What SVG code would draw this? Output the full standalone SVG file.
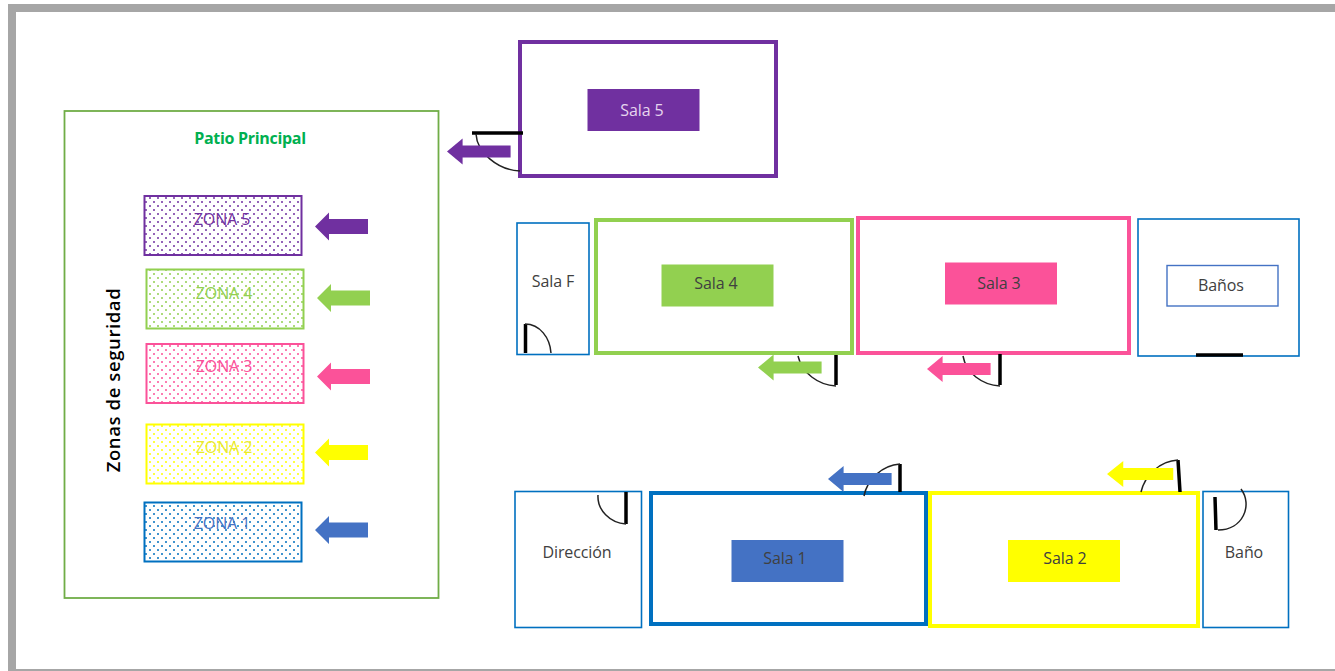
<svg xmlns="http://www.w3.org/2000/svg" width="1335" height="671" viewBox="0 0 1335 671">
<style>
text{font-family:"Open Sans","Liberation Sans",sans-serif;text-anchor:middle;font-size:16px;fill:#404040;letter-spacing:-.1px}
.room{fill:#fff;stroke-width:4}
.small{fill:#fff;stroke:#0070c0;stroke-width:1.6}
.zone{stroke-width:2}
.door{fill:none;stroke:#000;stroke-width:3.5}
.swing{fill:none;stroke:#222;stroke-width:1.5}
</style>
<defs>
<pattern id="p5" width="8" height="8" patternUnits="userSpaceOnUse"><rect width="8" height="8" fill="#fff"/><circle cx="2" cy="2" r="1" fill="#7030a0"/><circle cx="6" cy="6" r="1" fill="#7030a0"/></pattern>
<pattern id="p4" width="8" height="8" patternUnits="userSpaceOnUse"><rect width="8" height="8" fill="#fff"/><circle cx="2" cy="2" r="1" fill="#92d050"/><circle cx="6" cy="6" r="1" fill="#92d050"/></pattern>
<pattern id="p3" width="8" height="8" patternUnits="userSpaceOnUse"><rect width="8" height="8" fill="#fff"/><circle cx="2" cy="2" r="1" fill="#fb5299"/><circle cx="6" cy="6" r="1" fill="#fb5299"/></pattern>
<pattern id="p2" width="8" height="8" patternUnits="userSpaceOnUse"><rect width="8" height="8" fill="#fff"/><circle cx="2" cy="2" r="1" fill="#ffff00"/><circle cx="6" cy="6" r="1" fill="#ffff00"/></pattern>
<pattern id="p1" width="8" height="8" patternUnits="userSpaceOnUse"><rect width="8" height="8" fill="#fff"/><circle cx="2" cy="2" r="1" fill="#0070c0"/><circle cx="6" cy="6" r="1" fill="#0070c0"/></pattern>
<path id="arr" d="M0 0L13 -13V-6H53V6H13V13Z"/>
<path id="arr2" d="M0 0L14 -14V-7.500H53V7.500H14V14Z"/>
</defs>
<rect width="1335" height="671" fill="#fff"/>
<path d="M12 675V8H1335M12 673H1335" fill="none" stroke="#a6a6a6" stroke-width="8"/>

<g id="patio">
<rect x="64.500" y="111" width="374" height="487" fill="#fff" stroke="#70ad47" stroke-width="1.800"/>
<text x="250" y="144" style="font-size:16px;font-weight:700;fill:#00b050;letter-spacing:-.3px">Patio Principal</text>
<text transform="translate(120 380) rotate(-90)" style="font-size:18.500px;font-weight:600;fill:#000;letter-spacing:.6px">Zonas de seguridad</text>
</g>
<g id="zona5"><rect class="zone" x="144.500" y="196" width="157" height="59" fill="url(#p5)" stroke="#7030a0"/><text x="222" y="225" style="fill:#7030a0">ZONA 5</text></g>
<g id="zona4"><rect class="zone" x="146.500" y="269.500" width="157" height="59" fill="url(#p4)" stroke="#92d050"/><text x="224" y="299" style="fill:#92d050">ZONA 4</text></g>
<g id="zona3"><rect class="zone" x="146.500" y="344" width="157" height="59" fill="url(#p3)" stroke="#fb5299"/><text x="224" y="372" style="fill:#fb5299">ZONA 3</text></g>
<g id="zona2"><rect class="zone" x="146.500" y="424.500" width="157" height="59" fill="url(#p2)" stroke="#ffff00"/><text x="224" y="453" style="fill:#e8e830">ZONA 2</text></g>
<g id="zona1"><rect class="zone" x="144.500" y="502.500" width="157" height="59" fill="url(#p1)" stroke="#0070c0"/><text x="222" y="529" style="fill:#4472c4">ZONA 1</text></g>

<g id="sala5"><rect class="room" x="520" y="42" width="256" height="134" stroke="#7030a0"/><rect x="587.500" y="89" width="112" height="42" fill="#7030a0"/><text x="642" y="116" style="fill:#e6d5ee">Sala 5</text></g>
<g id="salaF"><rect class="small" x="517" y="223" width="72" height="131.500"/><text x="553" y="287">Sala F</text></g>
<g id="sala4"><rect class="room" x="596" y="220" width="256" height="133" stroke="#92d050"/><rect x="661.500" y="264.500" width="112" height="42" fill="#92d050"/><text x="716" y="289">Sala 4</text></g>
<g id="sala3"><rect class="room" x="858" y="218" width="271" height="135" stroke="#fb5299"/><rect x="945" y="262.500" width="112" height="42" fill="#fb5299"/><text x="999" y="289">Sala 3</text></g>
<g id="banos"><rect class="small" x="1138" y="219" width="161" height="137"/><rect x="1167" y="265.500" width="111" height="40.500" fill="#fff" stroke="#4472c4" stroke-width="1.400"/><text x="1221" y="291">Baños</text></g>
<g id="direccion"><rect class="small" x="515" y="491.500" width="126.500" height="136"/><text x="577" y="558">Dirección</text></g>
<g id="sala1"><rect class="room" x="651" y="493" width="275" height="131" stroke="#0070c0"/><rect x="731.500" y="540" width="112" height="42" fill="#4472c4"/><text x="785" y="564">Sala 1</text></g>
<g id="sala2"><rect class="room" x="930" y="493" width="268" height="133" stroke="#ffff00"/><rect x="1008" y="540" width="112" height="42" fill="#ffff00"/><text x="1065" y="564">Sala 2</text></g>
<g id="bano"><rect class="small" x="1203" y="491.500" width="85.500" height="136"/><text x="1244" y="558">Baño</text></g>

<g id="connectors">
<g id="doors">
<path class="door" d="M472 133H523"/><path class="swing" d="M476 134C477 152 497 170 520 171"/>
<path class="door" d="M525.500 353V324"/><path class="swing" d="M525 324C540 324 550 338 551 353"/>
<path class="door" d="M836 355V385"/><path class="swing" d="M798 356C802 373 818 385 836 386"/>
<path class="door" d="M1000 354V385"/><path class="swing" d="M963 356C966 373 982 385 1000 386"/>
<path class="door" d="M1196 355H1243"/>
<path class="door" d="M900 492V464"/><path class="swing" d="M864 496C867 480 882 465 900 464"/>
<path class="door" d="M1180 492L1178 460"/><path class="swing" d="M1141 492C1145 475 1160 461 1178 460"/>
<path class="door" d="M1215 497L1216 530"/><path class="swing" d="M1241 489C1253 505 1243 530 1218 530"/>
<path class="door" d="M626 492V524"/><path class="swing" d="M598 495C597 510 610 523 626 524"/>
</g>
<g id="arrows">
<use href="#arr" fill="#7030a0" transform="translate(447 151.500) scale(1.200 1)"/>
<use href="#arr2" x="315" y="226.500" fill="#7030a0"/>
<use href="#arr2" x="317" y="298" fill="#92d050"/>
<use href="#arr2" x="317" y="376.500" fill="#fb5299"/>
<use href="#arr2" x="315" y="452.500" fill="#ffff00"/>
<use href="#arr2" x="315" y="530" fill="#4472c4"/>
<use href="#arr" fill="#92d050" transform="translate(758 367.500) scale(1.200 1)"/>
<use href="#arr" fill="#fb5299" transform="translate(927 369) scale(1.200 1)"/>
<use href="#arr" fill="#4472c4" transform="translate(828 479) scale(1.200 1)"/>
<use href="#arr" fill="#ffff00" transform="translate(1107 474) scale(1.250 1)"/>
</g>
</g>
</svg>
